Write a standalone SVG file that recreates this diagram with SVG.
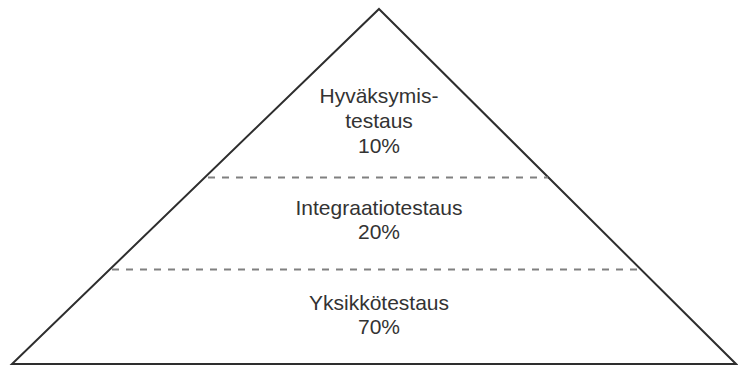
<svg xmlns="http://www.w3.org/2000/svg" width="738" height="367" viewBox="0 0 738 367">
  <style>
    .outline { fill: #ffffff; stroke: #2e2e2e; stroke-width: 2; stroke-linejoin: miter; }
    .divider { stroke: #808080; stroke-width: 2; stroke-dasharray: 7 7; fill: none; }
    .label { font-family: "Liberation Sans", Arial, sans-serif; font-size: 21px; fill: #333333; text-anchor: middle; }
  </style>
  <rect width="738" height="367" fill="#ffffff"/>

  <!-- pyramid outline -->
  <g id="pyramid">
    <polygon class="outline" points="379,9 736,364 12,364"/>
  </g>

  <!-- dashed separators between the layers -->
  <g id="dividers">
    <line class="divider" x1="208" y1="177.5" x2="548" y2="177.5"/>
    <line class="divider" x1="112" y1="269.5" x2="640" y2="269.5"/>
  </g>

  <g id="layer-acceptance">
    <text class="label" x="379" y="103">Hyväksymis-</text>
    <text class="label" x="379" y="128">testaus</text>
    <text class="label" x="379" y="153">10%</text>
  </g>

  <g id="layer-integration">
    <text class="label" x="379" y="215">Integraatiotestaus</text>
    <text class="label" x="379" y="239">20%</text>
  </g>

  <g id="layer-unit">
    <text class="label" x="379" y="310">Yksikkötestaus</text>
    <text class="label" x="379" y="334">70%</text>
  </g>
</svg>
